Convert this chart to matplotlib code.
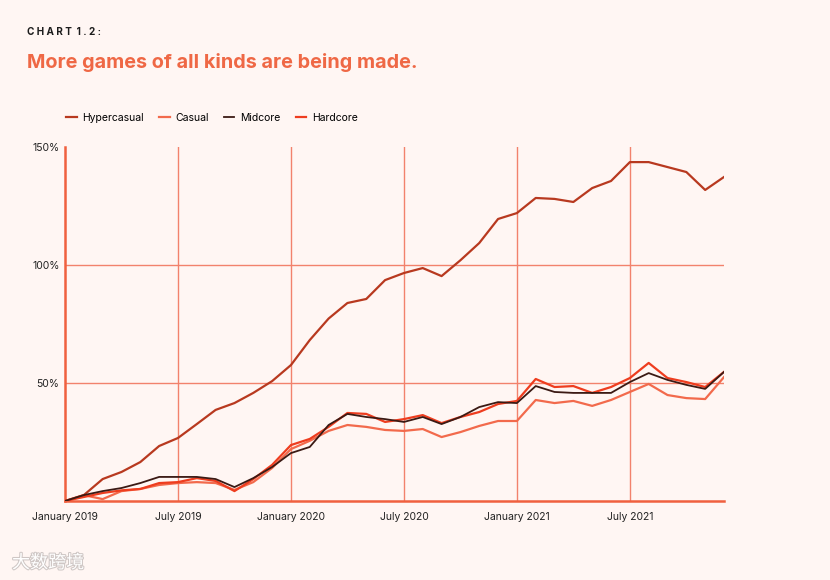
import matplotlib.pyplot as plt
import matplotlib.patheffects as pe

# months since January 2019 (Jan 2019 .. Dec 2021)
months = list(range(36))
tick_pos = [0, 6, 12, 18, 24, 30]
tick_labels = ["January 2019", "July 2019", "January 2020", "July 2020", "January 2021", "July 2021"]
y_ticks = [50, 100, 150]
y_labels = ["50%", "100%", "150%"]

hypercasual = [0, 2.5, 9.3, 12.3, 16.5, 23.3, 26.7, 32.6, 38.6, 41.5, 45.8, 50.8,
               57.6, 68.2, 77.3, 83.9, 85.6, 93.6, 96.6, 98.7, 95.3, 102.0, 109.3, 119.5,
               122.0, 128.4, 128.0, 126.7, 132.6, 135.6, 143.6, 143.6, 141.5, 139.4, 131.8, 137.3]
casual = [0, 2.5, 0.8, 4.2, 5.1, 6.8, 7.6, 8.0, 7.6, 4.7, 8.0, 14.0,
          22.0, 25.5, 29.7, 32.2, 31.4, 30.1, 29.7, 30.5, 27.1, 29.2, 31.8, 33.9,
          33.9, 42.8, 41.5, 42.4, 40.3, 42.8, 46.2, 49.6, 44.9, 43.6, 43.2, 52.5]
midcore = [0, 2.5, 4.2, 5.5, 7.6, 10.2, 10.2, 10.2, 9.3, 5.9, 9.7, 14.4,
           20.3, 22.9, 32.2, 36.9, 35.6, 34.7, 33.5, 35.6, 32.6, 35.6, 39.8, 41.9,
           41.5, 48.7, 46.2, 45.8, 45.8, 45.8, 50.4, 54.2, 51.3, 49.2, 47.5, 54.7]
hardcore = [0, 1.7, 3.4, 4.5, 5.1, 7.6, 8.0, 9.7, 8.5, 4.2, 9.3, 15.3,
            23.7, 26.3, 31.4, 37.3, 36.9, 33.5, 34.7, 36.4, 33.0, 35.6, 37.7, 41.1,
            42.4, 51.7, 48.3, 48.7, 45.8, 48.3, 52.1, 58.5, 52.1, 50.4, 48.3, 54.7]

bg = "#fff6f3"
grid_c = "#f2826c"
axis_c = "#f0603f"

plt.rcParams['font.family'] = ['Inter', 'DejaVu Sans']

fig = plt.figure(figsize=(8.3, 5.8), dpi=100, facecolor=bg)
ax = fig.add_axes([65/830, 79/580, 659/830, 354/580], facecolor=bg)

ax.plot(months, hypercasual, color="#b8391f", lw=1.6, label="Hypercasual", zorder=4)
ax.plot(months, casual, color="#f26a4c", lw=1.6, label="Casual", zorder=3)
ax.plot(months, hardcore, color="#ee3d1f", lw=1.6, label="Hardcore", zorder=4)
ax.plot(months, midcore, color="#3b1a14", lw=1.3, label="Midcore", zorder=5)

ax.set_xlim(0, 35)
ax.set_ylim(0, 150)
for x in tick_pos[1:]:
    ax.axvline(x, color=grid_c, lw=1.0, zorder=1)
for y in y_ticks[:-1]:
    ax.axhline(y, color=grid_c, lw=1.0, zorder=1)

for s in ["top", "right"]:
    ax.spines[s].set_visible(False)
for s in ["left", "bottom"]:
    ax.spines[s].set_color(axis_c)
    ax.spines[s].set_linewidth(1.8)

ax.set_xticks(tick_pos)
ax.set_xticklabels(tick_labels, fontsize=7.5, color="#222222")
ax.set_yticks(y_ticks)
ax.set_yticklabels(y_labels, fontsize=7.5, color="#222222")
ax.tick_params(length=0, pad=8)
ax.tick_params(axis="y", pad=4)

# legend in the order of the reference
handles, labels = ax.get_legend_handles_labels()
order = ["Hypercasual", "Casual", "Midcore", "Hardcore"]
hmap = dict(zip(labels, handles))
fig.legend([hmap[k] for k in order], order, loc="center left",
           bbox_to_anchor=(57/830, 1 - 118/580), ncol=4, frameon=False,
           fontsize=7.5, handlelength=1.0, handletextpad=0.55, columnspacing=1.45)

fig.text(27/830, 1 - 32/580, "C H A R T  1 . 2 :", fontsize=7.2, fontweight="bold",
         color="#1c1c1c", va="center", ha="left")
fig.text(27/830, 1 - 62/580, "More games of all kinds are being made.", fontsize=14.3,
         fontweight="bold", color="#ef6845", va="center", ha="left")

# faint watermark
fig.text(12/830, 1 - 563/580, "大数跨境", fontsize=13, color="#ffffff",
         family=['Noto Sans CJK SC', 'DejaVu Sans'], va="center", ha="left",
         path_effects=[pe.withStroke(linewidth=1.5, foreground="#cfc7c5")])

fig.savefig("out.png", dpi=100, facecolor=bg)
